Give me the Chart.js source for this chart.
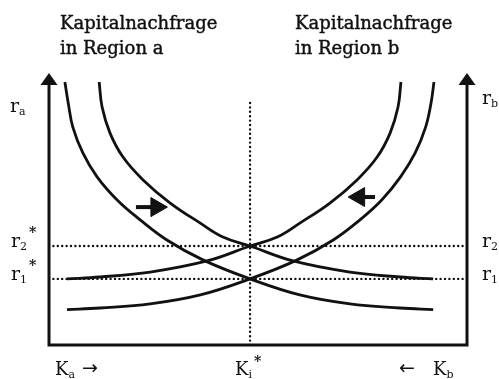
<!DOCTYPE html>
<html>
<head>
<meta charset="utf-8">
<script src="https://cdn.jsdelivr.net/npm/chart.js@4"></script>
<style>
  html, body { margin: 0; padding: 0; background: #fff; }
</style>
</head>
<body>
<canvas id="chart" width="499" height="379"></canvas>
<script>
// capital demand curves, x = capital K (0..100), y = interest rate r (0..100)
// region a: falling curves, a1 = before shift, a2 = after shift
const demandA1 = [
  {x: 3.8, y: 96.7}, {x: 4.6, y: 89.0}, {x: 5.7, y: 80.1}, {x: 8.1, y: 70.6},
  {x: 11.5, y: 61.8}, {x: 16.3, y: 53.3}, {x: 21.8, y: 46.0}, {x: 28.2, y: 38.6},
  {x: 36.8, y: 31.3}, {x: 48.1, y: 24.3}, {x: 60.0, y: 18.4}, {x: 72.0, y: 15.1},
  {x: 84.0, y: 13.6}, {x: 91.9, y: 13.0}
];
const demandA2 = [
  {x: 12.0, y: 96.7}, {x: 12.7, y: 87.5}, {x: 14.6, y: 77.9}, {x: 17.7, y: 69.1},
  {x: 22.5, y: 60.7}, {x: 29.0, y: 52.2}, {x: 36.1, y: 44.9}, {x: 41.6, y: 39.7},
  {x: 48.1, y: 36.4}, {x: 58.4, y: 30.9}, {x: 72.0, y: 26.8}, {x: 84.0, y: 25.0},
  {x: 91.9, y: 24.3}
];
// region b: rising curves
const demandB1 = [
  {x: 4.3, y: 13.0}, {x: 12.2, y: 13.6}, {x: 24.2, y: 15.1}, {x: 36.2, y: 18.4},
  {x: 48.1, y: 24.3}, {x: 59.4, y: 31.3}, {x: 68.0, y: 38.6}, {x: 74.4, y: 46.0},
  {x: 79.6, y: 53.3}, {x: 84.1, y: 61.8}, {x: 87.6, y: 70.6}, {x: 90.1, y: 80.1},
  {x: 91.4, y: 89.0}, {x: 92.1, y: 96.7}
];
const demandB2 = [
  {x: 4.3, y: 24.3}, {x: 12.2, y: 25.0}, {x: 24.2, y: 26.8}, {x: 37.8, y: 30.9},
  {x: 48.1, y: 36.4}, {x: 54.6, y: 39.7}, {x: 60.1, y: 44.9}, {x: 67.2, y: 52.2},
  {x: 73.7, y: 60.7}, {x: 78.5, y: 69.1}, {x: 81.6, y: 77.9}, {x: 83.5, y: 87.5},
  {x: 84.2, y: 96.7}
];

const rLevels = [24.3, 36.4];   // r1*, r2*
const rSubs = ['1', '2'];
const kStar = 48.1;
const kStarTop = 89;

// shift arrows: tail -> head centre
const arrowRight = [{x: 20.8, y: 50.7}, {x: 25.7, y: 50.7}];
const arrowLeft = [{x: 78.0, y: 54.4}, {x: 74.2, y: 54.4}];

const titles = [['Kapitalnachfrage', 'in Region a'], ['Kapitalnachfrage', 'in Region b']];

const INK = '#111';
const SERIF = '"DejaVu Serif", "Liberation Serif", serif';

function dotted(data) {
  return {
    data: data, showLine: true, pointRadius: 0,
    borderColor: INK, borderWidth: 2.4, borderDash: [0, 4.4], borderCapStyle: 'round'
  };
}
function curve(data) {
  return {
    data: data, showLine: true, pointRadius: 0,
    borderColor: INK, borderWidth: 2.8, tension: 0.4
  };
}
function arrow(data, rot) {
  return {
    data: data, showLine: true, borderColor: INK, borderWidth: 4,
    pointRadius: [0, 11], pointStyle: 'triangle', rotation: rot,
    pointBackgroundColor: INK, pointBorderColor: INK, pointBorderWidth: 1
  };
}

function subLabel(ctx, x, y, main, sub, star, size) {
  ctx.font = size + 'px ' + SERIF;
  ctx.fillText(main, x, y);
  const w = ctx.measureText(main).width;
  ctx.font = '11px ' + SERIF;
  ctx.fillText(sub, x + w, y + 3);
  if (star) {
    const ws = ctx.measureText(sub).width;
    ctx.font = 'bold 14px ' + SERIF;
    ctx.fillText('*', x + w + ws + 2, y - size * 0.5);
  }
}

const axesPlugin = {
  id: 'axes',
  afterDraw(chart) {
    const ctx = chart.ctx;
    const a = chart.chartArea;
    const ys = chart.scales.y, xs = chart.scales.x;
    ctx.save();
    ctx.strokeStyle = INK; ctx.fillStyle = INK;
    ctx.lineWidth = 3;
    // axes
    ctx.beginPath();
    ctx.moveTo(a.left, a.top + 8); ctx.lineTo(a.left, a.bottom);
    ctx.lineTo(a.right, a.bottom); ctx.lineTo(a.right, a.top + 8);
    ctx.stroke();
    [a.left, a.right].forEach(x => {
      ctx.beginPath();
      ctx.moveTo(x, a.top); ctx.lineTo(x - 8.5, a.top + 12); ctx.lineTo(x + 8.5, a.top + 12);
      ctx.closePath(); ctx.fill();
    });

    // titles
    ctx.textBaseline = 'alphabetic';
    ctx.textAlign = 'left';
    ctx.font = '18px ' + SERIF;
    ctx.lineWidth = 0.45;
    titles.forEach((t, i) => {
      const x = i === 0 ? 60 : 295;
      ctx.fillText(t[0], x, 29); ctx.strokeText(t[0], x, 29);
      ctx.fillText(t[1], x, 54); ctx.strokeText(t[1], x, 54);
    });

    // axis labels
    subLabel(ctx, a.left - 39, 112, 'r', 'a', false, 19);
    subLabel(ctx, a.right + 15, 104, 'r', 'b', false, 19);
    rLevels.forEach((r, i) => {
      const py = ys.getPixelForValue(r) + 1;
      subLabel(ctx, a.left - 38, py, 'r', rSubs[i], true, 19);
      subLabel(ctx, a.right + 15, py, 'r', rSubs[i], false, 19);
    });
    const kx = xs.getPixelForValue(kStar);
    subLabel(ctx, kx - 15, 375, 'K', 'i', true, 18);
    subLabel(ctx, a.left + 6, 375, 'K', 'a', false, 18);
    ctx.font = '19px "DejaVu Sans", sans-serif';
    ctx.fillText('\u2192', a.left + 33, 374);
    ctx.fillText('\u2190', a.right - 68, 374);
    subLabel(ctx, a.right - 34, 375, 'K', 'b', false, 18);
    ctx.restore();
  }
};

new Chart(document.getElementById('chart'), {
  type: 'scatter',
  data: {
    datasets: [
      dotted([{x: 0, y: rLevels[0]}, {x: 100, y: rLevels[0]}]),
      dotted([{x: 0, y: rLevels[1]}, {x: 100, y: rLevels[1]}]),
      dotted([{x: kStar, y: 0}, {x: kStar, y: kStarTop}]),
      curve(demandA1), curve(demandA2), curve(demandB1), curve(demandB2),
      arrow(arrowRight, 90), arrow(arrowLeft, -90)
    ]
  },
  options: {
    responsive: false,
    devicePixelRatio: 1,
    animation: false,
    layout: { padding: { left: 49, right: 32, top: 73, bottom: 34 } },
    plugins: { legend: { display: false }, tooltip: { enabled: false } },
    scales: {
      x: { type: 'linear', min: 0, max: 100, display: false },
      y: { type: 'linear', min: 0, max: 100, display: false }
    }
  },
  plugins: [axesPlugin]
});
</script>
</body>
</html>
